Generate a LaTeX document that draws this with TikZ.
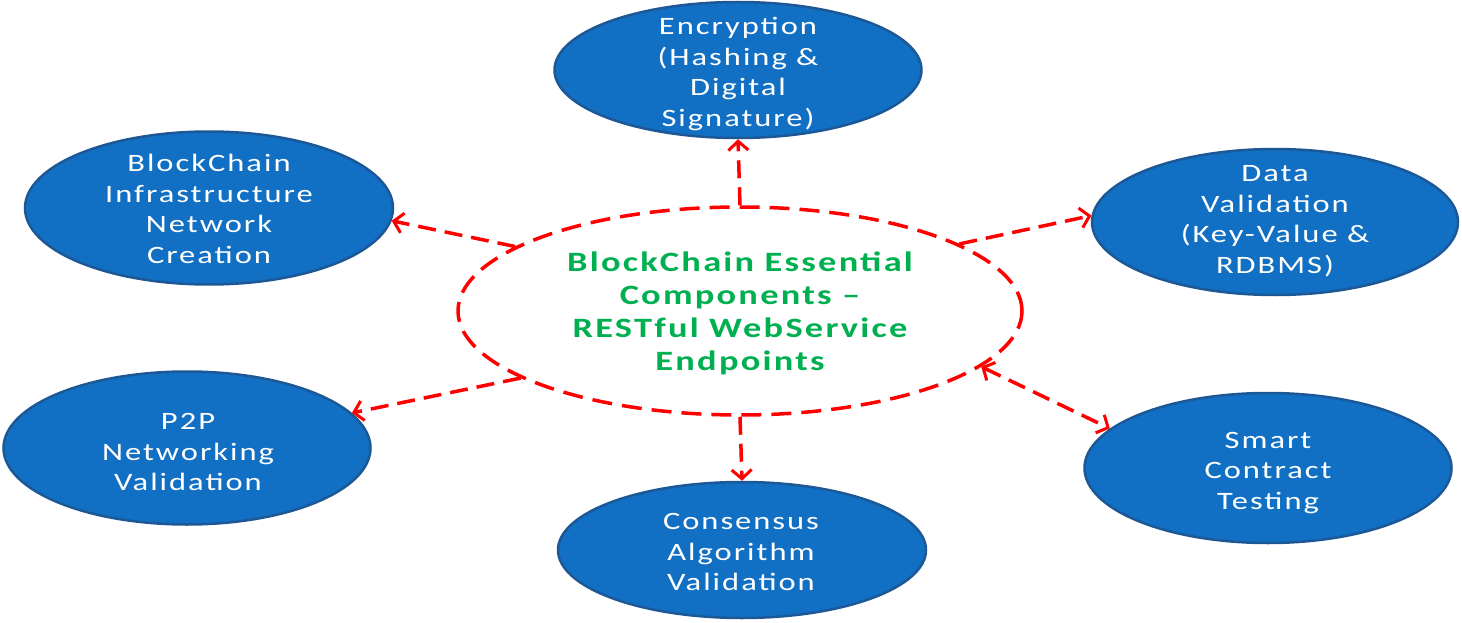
\documentclass[tikz,border=0pt]{standalone}
\usepackage{fontspec}
\setmainfont{Carlito}[FakeStretch=1.3, LetterSpace=8]
\usetikzlibrary{shapes.geometric,arrows.meta}
\definecolor{blobfill}{RGB}{17,112,196}
\definecolor{blobline}{RGB}{28,88,150}
\definecolor{hubgreen}{RGB}{0,176,80}
\definecolor{linkred}{RGB}{255,0,0}
\begin{document}
\begin{tikzpicture}[x=1pt,y=-1pt,
 blob/.style={ellipse, draw=blobline, line width=2.5pt, fill=blobfill, inner sep=0pt},
 blobtext/.style={text=white, align=center, inner sep=0pt, font=\fontsize{25}{30.5}\selectfont},
 hub/.style={ellipse, draw=linkred, line width=3.5pt, dash pattern=on 20pt off 10pt, inner sep=0pt, minimum width=564pt, minimum height=208pt},
 hubtext/.style={text=hubgreen, align=center, inner sep=0pt, font=\bfseries\fontsize{28}{33}\selectfont},
 tip/.tip={Straight Barb[length=9pt,width=20pt,line width=3pt]},
 link/.style={draw=linkred, line width=3.5pt, dash pattern=on 18pt off 9pt, -tip},
]
\useasboundingbox (0,0) rectangle (1462,623);

\node[hub] (hub) at (740,311) {};
\node[hubtext] (hubt) at (740,313) {BlockChain Essential\\Components –\\RESTful WebService\\Endpoints};

\node[blob, minimum width=367pt, minimum height=136pt] (enc) at (738,70) {};
\node[blobtext] (enct) at (738,74) {Encryption\\(Hashing \&\\Digital\\Signature)};

\node[blob, minimum width=368pt, minimum height=153pt] (infra) at (209,208) {};
\node[blobtext] (infrat) at (209,209) {BlockChain\\Infrastructure\\Network\\Creation};

\node[blob, minimum width=366pt, minimum height=146pt] (data) at (1275,222) {};
\node[blobtext] (datat) at (1275,221) {Data\\Validation\\(Key-Value \&\\RDBMS)};

\node[blob, minimum width=367pt, minimum height=153pt] (p2p) at (187,448) {};
\node[blobtext] (p2pt) at (188,452) {P2P\\Networking\\Validation};

\node[blob, minimum width=367pt, minimum height=150pt] (smart) at (1268,468) {};
\node[blobtext] (smartt) at (1268,473) {Smart\\Contract\\Testing};

\node[blob, minimum width=368pt, minimum height=136pt] (cons) at (742,550) {};
\node[blobtext] (const) at (741,552) {Consensus\\Algorithm\\Validation};

\draw[link] (hub.90) -- (enc.south);
\draw[link] (hub.164.6) -- (infra.-4);
\draw[link] (hub.17.5) -- (data.178);
\draw[link] (hub.197) -- (p2p.12);
\draw[link, tip-tip] (hub.-13) -- (smart.166);
\draw[link] (hub.270) -- (cons.north);
\end{tikzpicture}
\end{document}
